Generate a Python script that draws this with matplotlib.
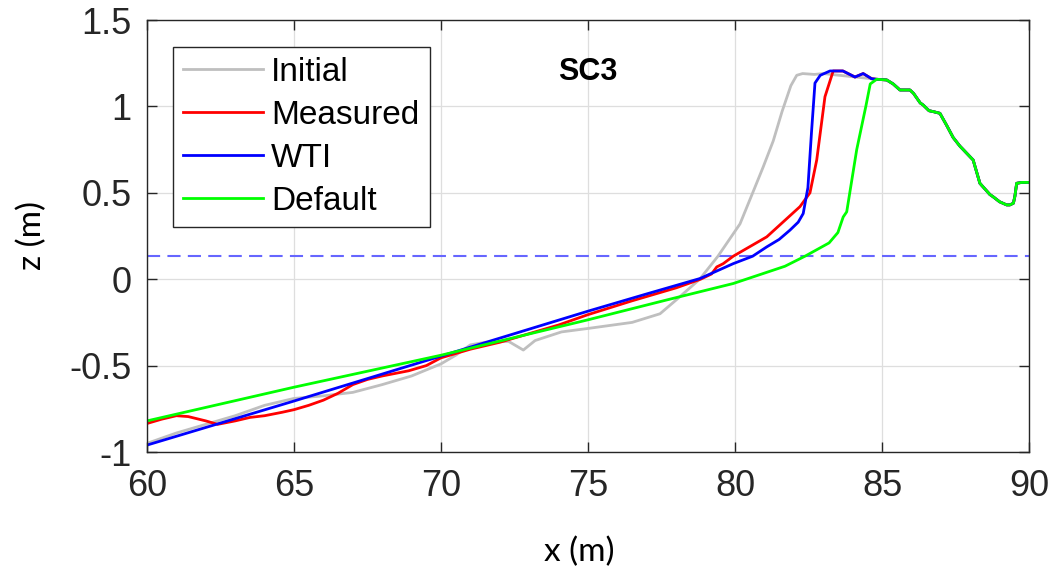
import numpy as np
import matplotlib.pyplot as plt

plt.rcParams['font.family'] = ['Liberation Sans', 'DejaVu Sans']

# shared dune crest / back slope (all profiles coincide here)
tail_x = [84.82, 85.16, 85.38, 85.61, 85.95, 86.07, 86.3, 86.4, 86.6, 86.74, 86.97,
          87.2, 87.42, 87.65, 88.1, 88.33, 88.67, 88.78, 89.0, 89.24, 89.35, 89.47,
          89.52, 89.58, 89.75, 90.0]
tail_z = [1.157, 1.153, 1.13, 1.095, 1.095, 1.076, 1.02, 1.008, 0.975, 0.97, 0.96,
          0.89, 0.82, 0.77, 0.69, 0.555, 0.49, 0.477, 0.448, 0.43, 0.43, 0.44,
          0.48, 0.555, 0.56, 0.56]

init_x = [60, 61, 62, 63, 64, 65, 66, 67, 68, 69, 70, 70.5, 71, 71.5, 72.3, 72.8,
          73.2, 74.1, 75, 76.5, 77.45, 78, 78.8, 79.42, 80.17, 80.65, 80.96, 81.3,
          81.6, 81.9, 82.1, 82.3, 82.7, 83.0]
init_z = [-0.95, -0.89, -0.84, -0.79, -0.73, -0.69, -0.675, -0.655, -0.61, -0.56,
          -0.49, -0.44, -0.38, -0.365, -0.36, -0.41, -0.355, -0.305, -0.285, -0.25,
          -0.20, -0.12, 0.0, 0.133, 0.32, 0.52, 0.65, 0.80, 0.97, 1.12, 1.18, 1.19,
          1.185, 1.19]

meas_x = [60, 60.5, 61.0, 61.4, 62.0, 62.4, 63.0, 63.5, 64, 64.6, 65.0, 65.5, 66.0,
          66.5, 67.0, 67.5, 68.0, 68.9, 69.5, 70.0, 71.0, 72, 73, 74, 75, 76.5,
          78.0, 78.83, 79.2, 79.38, 79.6, 79.94, 81.08, 82.21, 82.55, 82.78, 83.06,
          83.34, 83.67, 84.08, 84.36, 84.65]
meas_z = [-0.835, -0.81, -0.79, -0.795, -0.82, -0.84, -0.82, -0.80, -0.79, -0.77,
          -0.755, -0.73, -0.70, -0.66, -0.61, -0.58, -0.56, -0.53, -0.50, -0.455,
          -0.405, -0.365, -0.315, -0.265, -0.205, -0.125, -0.05, 0.0, 0.03, 0.071,
          0.09, 0.133, 0.245, 0.42, 0.50, 0.69, 1.056, 1.205, 1.205, 1.17, 1.19, 1.16]

wti_x = [60, 65, 70, 75, 77, 78.81, 79.94, 80.6, 81.08, 81.5, 81.87, 82.15, 82.32,
         82.48, 82.6, 82.72, 82.9, 83.23, 83.67, 84.08, 84.36, 84.65]
wti_z = [-0.96, -0.705, -0.445, -0.185, -0.085, 0.004, 0.09, 0.133, 0.187, 0.23,
         0.284, 0.33, 0.38, 0.53, 0.845, 1.135, 1.18, 1.205, 1.205, 1.17, 1.19, 1.16]

dflt_x = [60, 65, 70, 75, 77.68, 79.94, 81.7, 82.38, 83.2, 83.5, 83.68, 83.8,
          84.14, 84.45, 84.6]
dflt_z = [-0.82, -0.625, -0.44, -0.235, -0.12, -0.025, 0.075, 0.133, 0.21, 0.27,
          0.36, 0.39, 0.75, 1.0, 1.13]

water_level = 0.133

fig = plt.figure(figsize=(10.53, 5.74), dpi=100)
ax = fig.add_axes([147/1053, 1 - 452/574, 882/1053, 432/574])

ax.axhline(water_level, color=(0.4, 0.4, 1.0), lw=1.5, ls=(0, (6.3, 3.5)), zorder=1)
lw = 2.0
ax.plot(init_x + tail_x, init_z + tail_z, color=(0.75, 0.75, 0.75), lw=lw, label='Initial')
ax.plot(meas_x + tail_x, meas_z + tail_z, color='r', lw=lw, label='Measured')
ax.plot(wti_x + tail_x, wti_z + tail_z, color='b', lw=lw, label='WTI')
ax.plot(dflt_x + tail_x, dflt_z + tail_z, color=(0, 1, 0), lw=lw, label='Default')

ax.set_xlim(60, 90)
ax.set_ylim(-1, 1.5)
ax.set_xticks([60, 65, 70, 75, 80, 85, 90])
ax.set_yticks([-1, -0.5, 0, 0.5, 1, 1.5])
ax.set_yticklabels(['-1', '-0.5', '0', '0.5', '1', '1.5'])
ax.grid(True, color=(0.87, 0.87, 0.87), lw=0.9)
ax.set_axisbelow(True)
dark = (0.15, 0.15, 0.15)
for s in ax.spines.values():
    s.set_color(dark)
    s.set_linewidth(1.0)
ax.tick_params(direction='in', length=7, width=1.0, color=dark, labelcolor=dark,
               labelsize=26, top=True, right=True)
ax.tick_params(axis='x', pad=12)
ax.tick_params(axis='y', pad=11)

ax.set_xlabel('x (m)', fontsize=24, family=['Lato', 'DejaVu Sans'])
ax.set_ylabel('z (m)', fontsize=24, family=['Lato', 'DejaVu Sans'], labelpad=16)
ax.xaxis.set_label_coords(0.49, -0.195)
ax.text(0.5, 0.88, 'SC3', transform=ax.transAxes, ha='center', va='center',
        fontsize=22, fontweight='bold')

leg = ax.legend(loc='upper left', bbox_to_anchor=(0.0295, 0.9375), borderaxespad=0,
                fontsize=24, handlelength=2.4, handletextpad=0.25, labelspacing=0.36,
                borderpad=0.3, fancybox=False, framealpha=1)
leg.get_frame().set_edgecolor(dark)
leg.get_frame().set_linewidth(1.0)

fig.savefig('out.png', dpi=100)
